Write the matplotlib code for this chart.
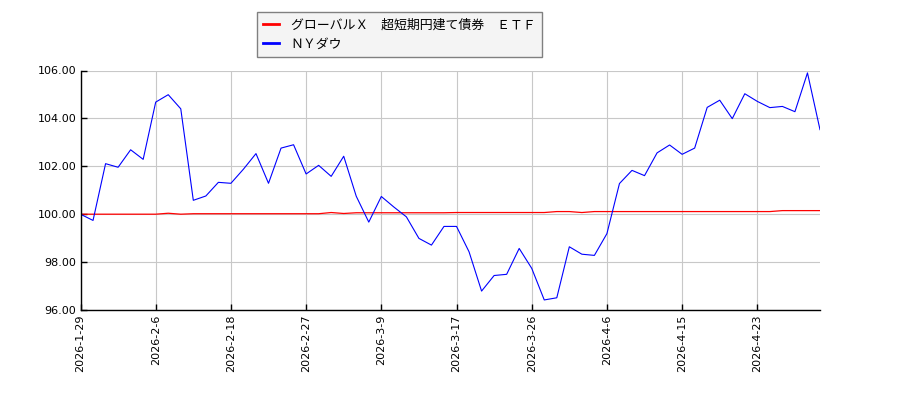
import matplotlib
matplotlib.use("Agg")
import matplotlib.pyplot as plt

plt.rcParams['font.family'] = ['Noto Sans CJK JP', 'DejaVu Sans']

tick_labels = ['2026-1-29', '2026-2-6', '2026-2-18', '2026-2-27', '2026-3-9',
               '2026-3-17', '2026-3-26', '2026-4-6', '2026-4-15', '2026-4-23']
tick_step = 6

dow = [100.00, 99.74, 102.11, 101.96, 102.69, 102.29, 104.68, 104.99, 104.40, 100.58,
       100.76, 101.33, 101.29, 101.88, 102.53, 101.29, 102.76, 102.90, 101.68, 102.04,
       101.58, 102.42, 100.75, 99.67, 100.74, 100.30, 99.89, 98.99, 98.71, 99.49,
       99.49, 98.43, 96.79, 97.44, 97.49, 98.57, 97.74, 96.42, 96.51, 98.64,
       98.33, 98.28, 99.19, 101.28, 101.83, 101.61, 102.56, 102.89, 102.50, 102.76,
       104.46, 104.76, 103.99, 105.03, 104.71, 104.45, 104.50, 104.28, 105.90, 103.53]

etf = [100.00, 100.00, 100.00, 100.00, 100.00, 100.00, 100.00, 100.04, 100.00, 100.02,
       100.02, 100.02, 100.02, 100.02, 100.02, 100.02, 100.02, 100.02, 100.02, 100.02,
       100.07, 100.03, 100.06, 100.06, 100.06, 100.06, 100.06, 100.06, 100.06, 100.06,
       100.07, 100.07, 100.07, 100.07, 100.07, 100.07, 100.07, 100.07, 100.11, 100.11,
       100.07, 100.11, 100.11, 100.11, 100.11, 100.11, 100.11, 100.11, 100.11, 100.11,
       100.11, 100.11, 100.11, 100.11, 100.11, 100.11, 100.15, 100.15, 100.15, 100.15]

etf_name = 'グローバルＸ　超短期円建て債券　ＥＴＦ'
dow_name = 'ＮＹダウ'

fig = plt.figure(figsize=(9, 4), dpi=100)
ax = fig.add_axes([80.5/900, 1 - 310/400, (820-80.5)/900, (310-70.5)/400])

x = list(range(len(dow)))
ax.plot(x, etf, color='#ff0000', lw=0.9, label=etf_name)
ax.plot(x, dow, color='#0000ff', lw=0.8, label=dow_name)

ax.set_xlim(0, len(dow) - 1)
ax.set_ylim(96, 106)
ax.set_yticks([96, 98, 100, 102, 104, 106])
ax.set_yticklabels([f'{v:.2f}' for v in [96, 98, 100, 102, 104, 106]])
ax.set_xticks([i * tick_step for i in range(len(tick_labels))])
ax.set_xticklabels(tick_labels, rotation=90)
ax.tick_params(direction='in', length=4, width=1, labelsize=8, colors='black', pad=3)
for lab in ax.get_xticklabels() + ax.get_yticklabels():
    lab.set_family('DejaVu Sans')
ax.grid(True, color='#c8c8c8', lw=0.8)
ax.set_axisbelow(True)
for s in ['top', 'right']:
    ax.spines[s].set_visible(False)
for s in ['left', 'bottom']:
    ax.spines[s].set_linewidth(1)
    ax.spines[s].set_color('black')

leg = fig.legend(loc='upper left', bbox_to_anchor=(257/900, 1 - 12/400),
                 borderaxespad=0,
                 fontsize=9.3, frameon=True, fancybox=False, framealpha=1,
                 facecolor='#f4f4f4', edgecolor='#808080', handlelength=1.2,
                 borderpad=0.5, labelspacing=0.5, handletextpad=0.9)
for line in leg.get_lines():
    line.set_linewidth(2)

fig.savefig('out.png', dpi=100)
